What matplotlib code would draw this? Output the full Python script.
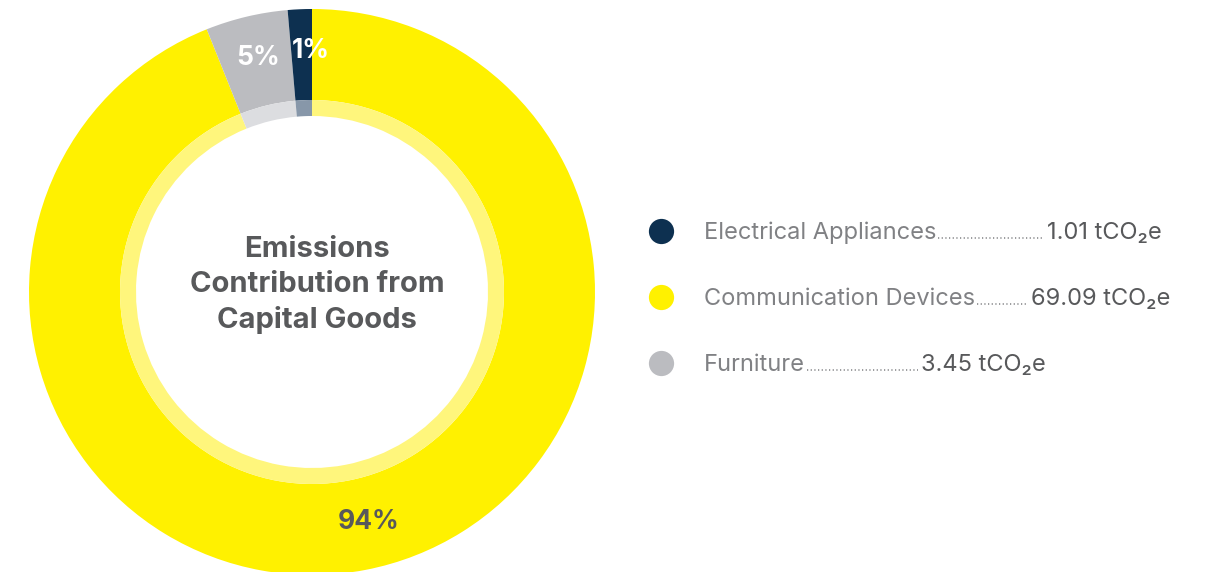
"""Donut chart of capital goods emissions with a dotted-leader legend."""

import numpy as np
import matplotlib.pyplot as plt

## data
categories = ["Electrical Appliances", "Communication Devices", "Furniture"]
emissions = [1.01, 69.09, 3.45]
unit = "tCO₂e"
title = "Emissions\nContribution from\nCapital Goods"

## styles
colors = ["#0d3050", "#fff100", "#bbbcc0"]
light_colors = ["#8797a9", "#fff67c", "#dcdde0"]
pct_colors = ["white", "#58595b", "white"]
pie_order = [1, 2, 0]          # yellow first, clockwise from 12 o'clock
value_x = [1047, 1031, 921]     # where each value starts after its leader
row_y = [231, 297, 363]         # legend rows, pixels from top

plt.rcParams['font.family'] = ['Inter', 'DejaVu Sans']

W, H = 1205, 572
fig = plt.figure(figsize=(W / 100, H / 100), dpi=100)
ax = fig.add_axes([0, 0, 1, 1])

cx, cy = 312, H - 292
vals = [emissions[i] for i in pie_order]

wedges, _ = ax.pie(vals, colors=[colors[i] for i in pie_order], startangle=90,
                   counterclock=False, radius=283, center=(cx, cy),
                   wedgeprops=dict(width=91, linewidth=0))
ax.pie(vals, colors=[light_colors[i] for i in pie_order], startangle=90,
       counterclock=False, radius=192, center=(cx, cy),
       wedgeprops=dict(width=16, linewidth=0))

ax.set_xlim(0, W)
ax.set_ylim(0, H)
ax.set_aspect('equal')
ax.axis('off')

## percent labels on the ring
total = sum(emissions)
nudge = {0: (9, 0), 1: (11, 7), 2: (2, 0)}
for w, i in zip(wedges, pie_order):
    pct = int(round(emissions[i] / total * 100))
    mid = np.deg2rad((w.theta1 + w.theta2) / 2)
    dx, dy = nudge.get(i, (0, 0))
    x = cx + 241 * np.cos(mid) + dx
    y = cy + 241 * np.sin(mid) + dy
    ax.text(x, y, f"{pct}%", ha='center', va='center', fontsize=19,
            fontweight='bold', color=pct_colors[i])

## centre title
ax.text(cx + 5, cy + 7, title, ha='center', va='center', fontsize=21,
        fontweight='bold', color='#58595b', linespacing=1.35)

## legend with dotted leaders
fig.canvas.draw()
renderer = fig.canvas.get_renderer()
for i, name in enumerate(categories):
    y = H - row_y[i]
    ax.scatter([661], [y], s=330, color=colors[i], linewidths=0)
    base = y - 8
    t = ax.text(704, base, name, ha='left', va='baseline', fontsize=17,
                color='#808184')
    end = t.get_window_extent(renderer).x1
    ax.plot([end + 2, value_x[i] - 3], [base + 1, base + 1], color='#808184',
            linewidth=1.1, linestyle=(0, (0.8, 1.6)))
    ax.text(value_x[i], base, f"{emissions[i]:.2f} {unit}", ha='left',
            va='baseline', fontsize=17, color='#58595b')

plt.savefig("out.png", dpi=100)
